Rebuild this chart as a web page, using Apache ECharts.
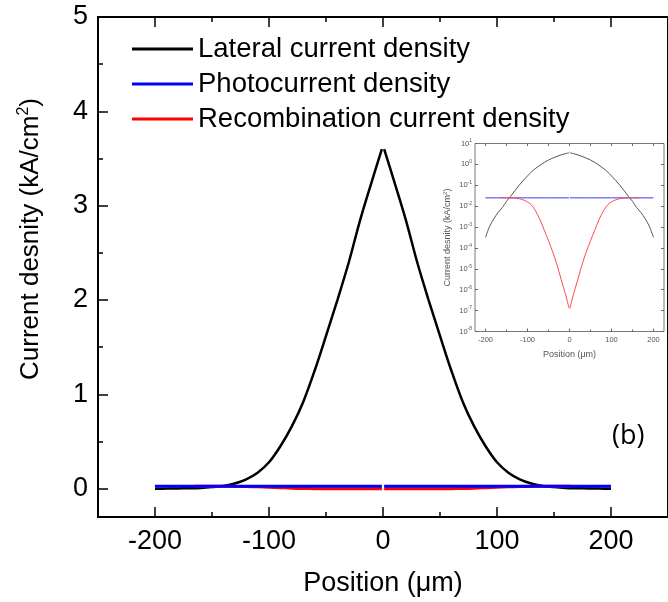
<!DOCTYPE html>
<html><head><meta charset="utf-8">
<script src="https://cdn.jsdelivr.net/npm/echarts@6/dist/echarts.min.js"></script>
<style>html,body{margin:0;padding:0;background:#fff}#c{width:668px;height:602px}</style>
</head><body><div id="c"></div>
<script>
// ---- data ----
const posLatL = [-200,-190,-180,-170,-160,-150,-140,-130,-120,-110,-100,-90,-80,-70,-60,-50,-40,-30,-20,-10,-1];
const latL = [0.00032,0.0011,0.0025,0.005,0.0085,0.017,0.03,0.055,0.1,0.17,0.28,0.45,0.66,0.92,1.25,1.62,2.0,2.4,2.85,3.25,3.6];
const posLatR = [1,10,20,30,40,50,60,70,80,90,100,110,120,130,140,150,160,170,180,190,200];
const latR = [3.6,3.25,2.85,2.4,2.0,1.62,1.25,0.92,0.66,0.45,0.28,0.17,0.1,0.055,0.03,0.017,0.0085,0.005,0.0025,0.0011,0.00032];

const posPhL = [-200,-150,-100,-50,-1];
const phL = [0.025,0.025,0.025,0.025,0.025];
const posPhR = [1,50,100,150,200];
const phR = [0.025,0.025,0.025,0.025,0.025];

const posRecL = [-165,-150,-140,-130,-120,-110,-100,-90,-80,-70,-60,-50,-40,-30,-20,-10,-1];
const recL = [0.025,0.0252,0.025,0.0245,0.023,0.02,0.016,0.011,0.0055,0.0022,0.0007,0.00022,0.000065,0.000016,0.0000032,0.00000065,0.00000013];
const posRecR = [1,10,20,30,40,50,60,70,80,90,100,110,120,130,140,150,165];
const recR = [0.00000013,0.00000065,0.0000032,0.000016,0.000065,0.00022,0.0007,0.0022,0.0055,0.011,0.016,0.02,0.023,0.0245,0.025,0.0252,0.025];

const seriesNames = ['Lateral current density','Photocurrent density','Recombination current density'];
const mainXTicks = [-200,-100,0,100,200];
const mainXMinor = [-150,-50,50,150];
const mainYTicks = [0,1,2,3,4,5];
const mainYMinor = [0.5,1.5,2.5,3.5,4.5];
const insetXTicks = [-200,-100,0,100,200];
const insetXMinor = [-150,-50,50,150];

function join(pl, vl, pr, vr){
  const d = pl.map((p,i)=>[p, vl[i]]);
  d.push([0,'-']);
  pr.forEach((p,i)=>d.push([p, vr[i]]));
  return d;
}
const latData = join(posLatL, latL, posLatR, latR);
const phData = join(posPhL, phL, posPhR, phR);
const recData = join(posRecL, recL, posRecR, recR);

const F = 'Liberation Sans, Arial, sans-serif';
const chart = echarts.init(document.getElementById('c'), null, {renderer:'canvas'});

const mainX = (pos, custom, len, showLine, labels, name) => ({
  type:'value', gridIndex:0, position:pos, min:-250, max:250,
  axisLine:{show:showLine, onZero:false, lineStyle:{color:'#000', width:2}},
  axisTick:{show:true, inside:true, length:len, customValues:custom, lineStyle:{color:'#000', width:1.5}},
  axisLabel:labels ? {show:true, customValues:custom, fontSize:27, color:'#000', fontFamily:F, margin:11} : {show:false},
  splitLine:{show:false},
  name: name || '', nameLocation:'middle', nameGap:53,
  nameTextStyle:{fontSize:27, color:'#000', fontFamily:F}
});
const mainY = (custom, len, showLine, labels) => ({
  type:'value', gridIndex:0, position:'left', min:-0.3, max:5,
  axisLine:{show:showLine, onZero:false, lineStyle:{color:'#000', width:2}},
  axisTick:{show:true, inside:true, length:len, customValues:custom, lineStyle:{color:'#000', width:1.5}},
  axisLabel:labels ? {show:true, customValues:custom, fontSize:27, color:'#000', fontFamily:F, margin:10} : {show:false},
  splitLine:{show:false},
  name: labels ? 'Current desnity (kA/cm{s|2})' : '', nameLocation:'middle', nameGap:52, nameRotate:90,
  nameTextStyle:{fontSize:26, color:'#000', fontFamily:F, padding:[0,0,0,56],
    rich:{s:{fontSize:16, fontFamily:F, color:'#000', padding:[0,0,14,0]}}}
});

const IC = '#666';
const insetX = (pos, custom, len, labels, name) => ({
  type:'value', gridIndex:1, position:pos, min:-225, max:225,
  axisLine:{show:false, onZero:false},
  axisTick:{show:true, inside:true, length:len, customValues:custom, lineStyle:{color:IC, width:1}},
  axisLabel:labels ? {show:true, customValues:custom, fontSize:7.5, color:'#555', fontFamily:F, margin:4} : {show:false},
  splitLine:{show:false},
  name: name || '', nameLocation:'middle', nameGap:19,
  nameTextStyle:{fontSize:9, color:'#555', fontFamily:F}
});
const insetY = (pos, labels) => ({
  type:'log', logBase:10, gridIndex:1, position:pos, min:1e-8, max:10, interval:1,
  axisLine:{show:false, onZero:false},
  axisTick:{show:true, inside:true, length:3, lineStyle:{color:IC, width:1}},
  axisLabel:labels ? {show:true, fontSize:7.5, color:'#555', fontFamily:F, margin:3,
    formatter:(v)=>'10{s|'+Math.round(Math.log10(v))+'}',
    rich:{s:{fontSize:5, color:'#555', fontFamily:F, padding:[0,0,5,0]}}} : {show:false},
  splitLine:{show:false},
  name: labels ? 'Current desnity (kA/cm{s|2})' : '', nameLocation:'middle', nameGap:22, nameRotate:90,
  nameTextStyle:{fontSize:9, color:'#555', fontFamily:F, rich:{s:{fontSize:6, color:'#555', fontFamily:F, padding:[0,0,5,0]}}}
});

const option = {
  animation:false,
  backgroundColor:'#fff',
  grid:[
    {left:98, top:17, width:578.75, height:501.4, show:true, borderColor:'#000', borderWidth:2, backgroundColor:'transparent'},
    {left:475, top:143.5, width:189, height:188, show:true, borderColor:'#777', borderWidth:1, backgroundColor:'#fff'}
  ],
  xAxis:[
    mainX('bottom', mainXTicks, 10, true, true, 'Position (\u03bcm)'),
    mainX('bottom', mainXMinor, 5, false, false),
    mainX('top', mainXTicks, 10, true, false),
    mainX('top', mainXMinor, 5, false, false),
    insetX('bottom', insetXTicks, 3, true, 'Position (\u03bcm)'),
    insetX('bottom', insetXMinor, 2, false),
    insetX('top', insetXTicks.concat(insetXMinor), 2.5, false)
  ],
  yAxis:[
    mainY(mainYTicks, 10, true, true),
    mainY(mainYMinor, 5, false, false),
    insetY('left', true),
    insetY('right', false)
  ],
  legend:{
    data:seriesNames, orient:'vertical', left:127, top:30,
    itemWidth:61, itemHeight:3, itemGap:7,
    icon:'rect',
    textStyle:{fontSize:27.5, color:'#000', fontFamily:F, lineHeight:27, padding:[0,0,0,0]}
  },
  graphic:[{type:'text', left:612, top:423, style:{text:'(b)', fontSize:27, fill:'#000', fontFamily:'Open Sans, Liberation Sans, sans-serif'}}],
  series:[
    {name:seriesNames[0], type:'line', xAxisIndex:0, yAxisIndex:0, data:latData, symbol:'none', smooth:0.35, color:'#000', lineStyle:{color:'#000', width:2.5}, z:2},
    {name:seriesNames[2], type:'line', xAxisIndex:0, yAxisIndex:0, data:recData, symbol:'none', smooth:0.35, color:'#ff0000', lineStyle:{color:'#ff0000', width:3}, z:3},
    {name:seriesNames[1], type:'line', xAxisIndex:0, yAxisIndex:0, data:phData, symbol:'none', color:'#0000ff', lineStyle:{color:'#0000ff', width:3}, z:4},
    {name:'inset-lat', type:'line', xAxisIndex:4, yAxisIndex:2, data:latData, symbol:'none', smooth:0.35, lineStyle:{color:'#555', width:1}, z:5},
    {name:'inset-ph', type:'line', xAxisIndex:4, yAxisIndex:2, data:phData, symbol:'none', lineStyle:{color:'#3a3aff', width:1}, z:6},
    {name:'inset-rec', type:'line', xAxisIndex:4, yAxisIndex:2, data:recData, symbol:'none', smooth:0.35, lineStyle:{color:'#ff4a4a', width:1}, z:7}
  ]
};
chart.setOption(option);
</script></body></html>
